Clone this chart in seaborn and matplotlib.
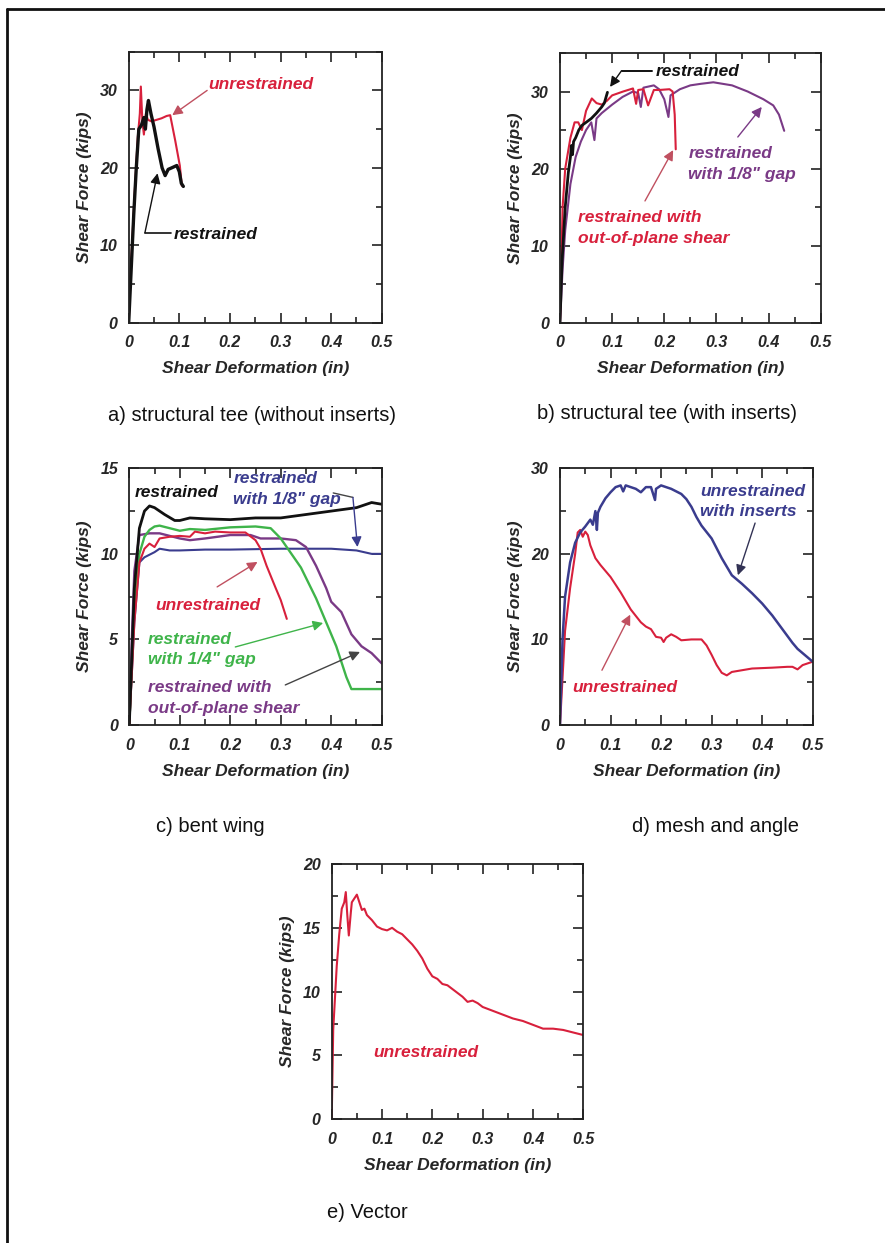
import matplotlib
matplotlib.use("Agg")
import matplotlib.pyplot as plt
from matplotlib.ticker import MultipleLocator
from matplotlib.lines import Line2D
import seaborn as sns

# ---- colours ----
RED = "#d8203c"
BLACK = "#111111"
PURPLE = "#7a3a86"
BLUE = "#3a3c8e"
GREEN = "#3fb44a"

# ---- a) structural tee (without inserts) ----
a_unres_x = [0, 0.005, 0.012, 0.018, 0.022, 0.024, 0.027, 0.030, 0.034, 0.038, 0.045, 0.055,
             0.065, 0.075, 0.082, 0.092, 0.101, 0.105]
a_unres_y = [0, 8, 17, 24, 27, 30.5, 26, 24.3, 27, 26.2, 26, 26.2, 26.4, 26.7, 26.8, 23.5, 20.3, 17.7]
a_res_x = [0, 0.005, 0.010, 0.015, 0.020, 0.025, 0.030, 0.033, 0.036, 0.039, 0.044, 0.050,
           0.058, 0.066, 0.072, 0.078, 0.085, 0.095, 0.100, 0.104, 0.108]
a_res_y = [0, 7, 14, 20, 25, 25.5, 26.5, 25, 27.5, 28.7, 27, 25.3, 22.5, 20, 19, 19.8, 20, 20.3, 19.5, 18, 17.6]

# ---- b) structural tee (with inserts) ----
b_res_x = [0, 0.004, 0.010, 0.016, 0.020, 0.022, 0.024, 0.026, 0.030, 0.036, 0.042, 0.050,
           0.060, 0.070, 0.080, 0.085, 0.088, 0.091]
b_res_y = [0, 8, 15, 19.5, 21.5, 23, 21.8, 23.5, 24, 25, 25.6, 26, 26.5, 27.2, 28, 28.5, 29.2, 29.9]
b_oop_x = [0, 0.005, 0.010, 0.020, 0.028, 0.035, 0.042, 0.050, 0.061, 0.070, 0.080, 0.090,
           0.100, 0.121, 0.140, 0.146, 0.150, 0.160, 0.169, 0.180, 0.190, 0.210, 0.216, 0.220, 0.222]
b_oop_y = [0, 15, 20, 24, 26, 26, 25, 27.5, 29.1, 28.5, 28.3, 28.8, 29.5, 30, 30.4, 28.4,
           30.2, 30.3, 28.2, 30.2, 30.2, 30.3, 30, 27, 22.5]
b_gap_x = [0, 0.005, 0.010, 0.020, 0.030, 0.040, 0.050, 0.060, 0.066, 0.070, 0.080, 0.100,
           0.120, 0.140, 0.150, 0.155, 0.160, 0.180, 0.190, 0.200, 0.208, 0.212, 0.230, 0.250,
           0.270, 0.294, 0.330, 0.360, 0.390, 0.409, 0.420, 0.430]
b_gap_y = [0, 7, 12, 18, 21.5, 23.5, 25, 26, 23.7, 26.5, 27.2, 28.3, 29.3, 30, 29.8, 28,
           30.5, 30.8, 30.3, 29, 26.7, 29.5, 30.3, 30.8, 31, 31.2, 30.8, 30, 29, 28.2, 27, 24.9]

# ---- c) bent wing ----
c_res_x = [0, 0.005, 0.010, 0.020, 0.030, 0.040, 0.050, 0.070, 0.090, 0.100, 0.120, 0.150,
           0.200, 0.250, 0.300, 0.350, 0.400, 0.450, 0.480, 0.500]
c_res_y = [0, 4, 8, 11.5, 12.5, 12.8, 12.7, 12.3, 11.95, 11.95, 12.1, 12.05, 12.0, 12.1,
           12.1, 12.3, 12.5, 12.7, 13.0, 12.9]
c_gap4_x = [0, 0.005, 0.010, 0.020, 0.030, 0.040, 0.050, 0.060, 0.080, 0.100, 0.120, 0.150,
            0.200, 0.250, 0.280, 0.300, 0.340, 0.370, 0.390, 0.410, 0.430, 0.440, 0.500]
c_gap4_y = [0, 3.5, 7, 10, 11, 11.4, 11.6, 11.65, 11.5, 11.35, 11.45, 11.4, 11.55, 11.6,
            11.5, 10.9, 9.2, 7.4, 6.0, 4.6, 2.8, 2.1, 2.1]
c_unres_x = [0, 0.005, 0.010, 0.020, 0.030, 0.040, 0.050, 0.060, 0.080, 0.100, 0.120, 0.130,
             0.150, 0.170, 0.200, 0.230, 0.250, 0.260, 0.272, 0.290, 0.300, 0.312]
c_unres_y = [0, 3, 6, 9.5, 10.3, 10.6, 10.4, 10.9, 11.0, 11.05, 11.0, 11.3, 11.2, 11.3,
             11.25, 11.25, 10.8, 10.3, 9.3, 8.0, 7.3, 6.2]
c_oop_x = [0, 0.005, 0.010, 0.020, 0.040, 0.060, 0.100, 0.120, 0.150, 0.200, 0.240, 0.260,
           0.300, 0.330, 0.350, 0.370, 0.390, 0.400, 0.420, 0.440, 0.460, 0.480, 0.500]
c_oop_y = [0, 5, 9, 11.1, 11.2, 11.2, 10.9, 10.8, 10.9, 11.1, 11.1, 10.9, 10.9, 10.8, 10.4,
           9.3, 8.0, 7.2, 6.6, 5.3, 4.6, 4.2, 3.6]
c_gap8_x = [0, 0.005, 0.010, 0.020, 0.030, 0.050, 0.060, 0.080, 0.100, 0.150, 0.200, 0.300,
            0.400, 0.450, 0.480, 0.500]
c_gap8_y = [0, 3, 6, 9.5, 9.8, 10.1, 10.3, 10.2, 10.2, 10.25, 10.25, 10.3, 10.3, 10.2, 10.0, 10.0]

# ---- d) mesh and angle ----
d_ins_x = [0, 0.005, 0.010, 0.020, 0.030, 0.040, 0.050, 0.060, 0.065, 0.070, 0.073, 0.075,
           0.080, 0.090, 0.100, 0.110, 0.120, 0.125, 0.130, 0.150, 0.160, 0.170, 0.180,
           0.188, 0.190, 0.200, 0.220, 0.240, 0.250, 0.260, 0.270, 0.280, 0.300, 0.320,
           0.340, 0.360, 0.380, 0.400, 0.420, 0.440, 0.460, 0.470, 0.480, 0.500]
d_ins_y = [0, 10, 15, 19, 21.3, 22.5, 23.2, 24, 23.4, 25, 22.8, 24.8, 25.5, 26.5, 27.2, 27.8,
           28, 27.3, 28, 27.6, 27.2, 27.8, 27.8, 26.3, 27.6, 28, 27.6, 27, 26.4, 25.5, 24.3,
           23.3, 21.8, 19.5, 17.5, 16.5, 15.4, 14.2, 12.8, 11.2, 9.6, 8.9, 8.4, 7.4]
d_unres_x = [0, 0.005, 0.010, 0.020, 0.030, 0.035, 0.040, 0.045, 0.050, 0.055, 0.060, 0.070,
             0.080, 0.090, 0.100, 0.120, 0.140, 0.160, 0.170, 0.180, 0.190, 0.200, 0.205,
             0.210, 0.220, 0.230, 0.240, 0.260, 0.280, 0.290, 0.300, 0.310, 0.320, 0.330,
             0.340, 0.360, 0.380, 0.420, 0.450, 0.460, 0.470, 0.480, 0.500]
d_unres_y = [0, 5.5, 11, 16, 20, 22.5, 22.8, 22, 22.6, 22.2, 21, 19.5, 18.7, 18, 17.3, 15.5,
             13.5, 12, 11.5, 11.2, 10.3, 10.2, 9.7, 10.2, 10.6, 10.3, 9.9, 10, 10, 9.3, 8.2,
             7.0, 6.1, 5.8, 6.2, 6.4, 6.6, 6.7, 6.8, 6.8, 6.5, 7.0, 7.4]

# ---- e) Vector ----
e_unres_x = [0, 0.003, 0.010, 0.015, 0.020, 0.025, 0.028, 0.031, 0.034, 0.038, 0.040, 0.045,
             0.050, 0.055, 0.060, 0.065, 0.070, 0.080, 0.090, 0.100, 0.110, 0.120, 0.130,
             0.140, 0.150, 0.160, 0.170, 0.180, 0.190, 0.200, 0.210, 0.220, 0.230, 0.240,
             0.250, 0.260, 0.270, 0.280, 0.290, 0.300, 0.320, 0.340, 0.360, 0.380, 0.400,
             0.420, 0.440, 0.460, 0.480, 0.500]
e_unres_y = [0, 7, 12, 14.5, 16.5, 17, 17.8, 16, 14.4, 16.2, 17, 17.3, 17.6, 17, 16.4, 16.5,
             16.0, 15.6, 15.1, 14.9, 14.8, 15, 14.7, 14.5, 14.1, 13.7, 13.2, 12.6, 11.8, 11.2,
             11.0, 10.6, 10.5, 10.2, 9.9, 9.6, 9.2, 9.3, 9.1, 8.8, 8.5, 8.2, 7.9, 7.7, 7.4,
             7.1, 7.1, 7.0, 6.8, 6.6]

x_ticklabels = ["0", "0.1", "0.2", "0.3", "0.4", "0.5"]

W, H = 885, 1243

sns.set_theme(style="ticks")
plt.rcParams["font.family"] = ["Liberation Sans", "DejaVu Sans"]

fig = plt.figure(figsize=(W / 100, H / 100), dpi=100)
fig.patch.set_facecolor("white")


def px_axes(left, top, right, bottom):
    return fig.add_axes([left / W, 1 - bottom / H, (right - left) / W, (bottom - top) / H])


def style_axes(ax, ymax, ymajor):
    ax.set_xlim(0, 0.5)
    ax.set_ylim(0, ymax)
    ax.set_xticks([0, 0.1, 0.2, 0.3, 0.4, 0.5])
    ax.set_xticklabels(x_ticklabels)
    ax.xaxis.set_minor_locator(MultipleLocator(0.05))
    ax.yaxis.set_major_locator(MultipleLocator(ymajor))
    ax.yaxis.set_minor_locator(MultipleLocator(ymajor / 2))
    ax.tick_params(which="both", direction="in", top=True, right=True, width=1.2,
                   labelsize=11.5, color="#222222")
    ax.tick_params(axis="x", pad=9)
    ax.tick_params(axis="y", pad=8)
    ax.tick_params(which="major", length=7)
    ax.tick_params(which="minor", length=4.5)
    for lab in ax.get_xticklabels() + ax.get_yticklabels():
        lab.set_fontweight("bold")
        lab.set_fontstyle("italic")
    for sp in ax.spines.values():
        sp.set_linewidth(1.3)
        sp.set_color("#222222")
    ax.set_xlabel("Shear Deformation (in)", fontsize=12.5, fontweight="bold",
                  fontstyle="italic", labelpad=8)
    ax.set_ylabel("Shear Force (kips)", fontsize=12.5, fontweight="bold",
                  fontstyle="italic", labelpad=6)


def curve(ax, xs, ys, color, lw=1.5):
    sns.lineplot(x=xs, y=ys, sort=False, estimator=None, color=color, linewidth=lw, ax=ax)


def note(ax, text, xy, color, ha="left", va="center"):
    ax.text(xy[0], xy[1], text, color=color, fontsize=12.5, fontweight="bold",
            fontstyle="italic", ha=ha, va=va, linespacing=1.45)


def arrow(ax, start, end, color):
    ax.annotate("", xy=end, xytext=start,
                arrowprops=dict(arrowstyle="-|>", color=color, lw=1.0,
                                mutation_scale=15, shrinkA=0, shrinkB=0))


# a)
ax = px_axes(128.7, 51.7, 381.7, 322.7)
curve(ax, a_unres_x, a_unres_y, RED)
curve(ax, a_res_x, a_res_y, BLACK, lw=2.4)
style_axes(ax, 35, 10)
note(ax, "unrestrained", (0.157, 30.8), RED)
arrow(ax, (0.155, 30.0), (0.086, 26.8), "#c05060")
note(ax, "restrained", (0.088, 11.4), BLACK)
ax.add_line(Line2D([0.083, 0.032], [11.6, 11.6], color=BLACK, lw=1.2))
arrow(ax, (0.032, 11.6), (0.057, 19.3), BLACK)

# b)
ax = px_axes(560, 53, 820.7, 322.7)
curve(ax, b_gap_x, b_gap_y, PURPLE)
curve(ax, b_oop_x, b_oop_y, RED)
curve(ax, b_res_x, b_res_y, BLACK, lw=2.0)
style_axes(ax, 35, 10)
note(ax, "restrained", (0.183, 32.6), BLACK)
ax.add_line(Line2D([0.176, 0.118], [32.7, 32.7], color=BLACK, lw=1.4))
arrow(ax, (0.118, 32.7), (0.096, 30.6), BLACK)
note(ax, "restrained\nwith 1/8\" gap", (0.246, 20.6), PURPLE)
arrow(ax, (0.341, 24.1), (0.387, 28.0), PURPLE)
note(ax, "restrained with\nout-of-plane shear", (0.034, 12.3), RED)
arrow(ax, (0.163, 15.8), (0.217, 22.4), "#c05060")

# c)
ax = px_axes(129.3, 468.3, 381.7, 725)
curve(ax, c_gap8_x, c_gap8_y, BLUE)
curve(ax, c_oop_x, c_oop_y, PURPLE, lw=1.7)
curve(ax, c_gap4_x, c_gap4_y, GREEN, lw=1.7)
curve(ax, c_unres_x, c_unres_y, RED)
curve(ax, c_res_x, c_res_y, BLACK, lw=2.0)
style_axes(ax, 15, 5)
note(ax, "restrained", (0.011, 13.6), BLACK)
note(ax, "restrained\nwith 1/8\" gap", (0.206, 13.8), BLUE)
ax.add_line(Line2D([0.404, 0.443], [13.56, 13.3], color="#444444", lw=1.0))
arrow(ax, (0.443, 13.3), (0.452, 10.4), BLUE)
note(ax, "unrestrained", (0.052, 7.0), RED)
arrow(ax, (0.174, 8.07), (0.254, 9.53), "#c05060")
note(ax, "restrained\nwith 1/4\" gap", (0.037, 4.4), GREEN)
arrow(ax, (0.210, 4.56), (0.384, 5.96), GREEN)
note(ax, "restrained with\nout-of-plane shear", (0.037, 1.58), PURPLE)
arrow(ax, (0.309, 2.34), (0.457, 4.27), "#444444")

# d)
ax = px_axes(560, 468.3, 812.7, 725)
curve(ax, d_unres_x, d_unres_y, RED)
curve(ax, d_ins_x, d_ins_y, BLUE, lw=1.8)
style_axes(ax, 30, 10)
note(ax, "unrestrained\nwith inserts", (0.277, 26.1), BLUE)
arrow(ax, (0.386, 23.6), (0.352, 17.5), "#333355")
note(ax, "unrestrained", (0.024, 4.4), RED)
arrow(ax, (0.083, 6.4), (0.139, 12.9), "#c05060")

# e)
ax = px_axes(331.7, 864, 583.3, 1119.3)
curve(ax, e_unres_x, e_unres_y, RED)
style_axes(ax, 20, 5)
note(ax, "unrestrained", (0.082, 5.27), RED)

# captions
cap = dict(fontsize=14.5, ha="center", va="center", color="#111111")
fig.text(252 / W, 1 - 415 / H, "a) structural tee (without inserts)", **cap)
fig.text(667 / W, 1 - 413 / H, "b) structural tee (with inserts)", **cap)
fig.text(210 / W, 1 - 826 / H, "c) bent wing", **cap)
fig.text(716 / W, 1 - 826 / H, "d) mesh and angle", **cap)
fig.text(367 / W, 1 - 1212 / H, "e) Vector", **cap)

# page frame (top and left edges)
fig.add_artist(Line2D([7 / W, 1.0], [1 - 9 / H, 1 - 9 / H], color=BLACK, lw=2.0,
                      transform=fig.transFigure))
fig.add_artist(Line2D([7 / W, 7 / W], [0, 1 - 9 / H], color=BLACK, lw=2.0,
                      transform=fig.transFigure))

fig.savefig("out.png", dpi=100)
